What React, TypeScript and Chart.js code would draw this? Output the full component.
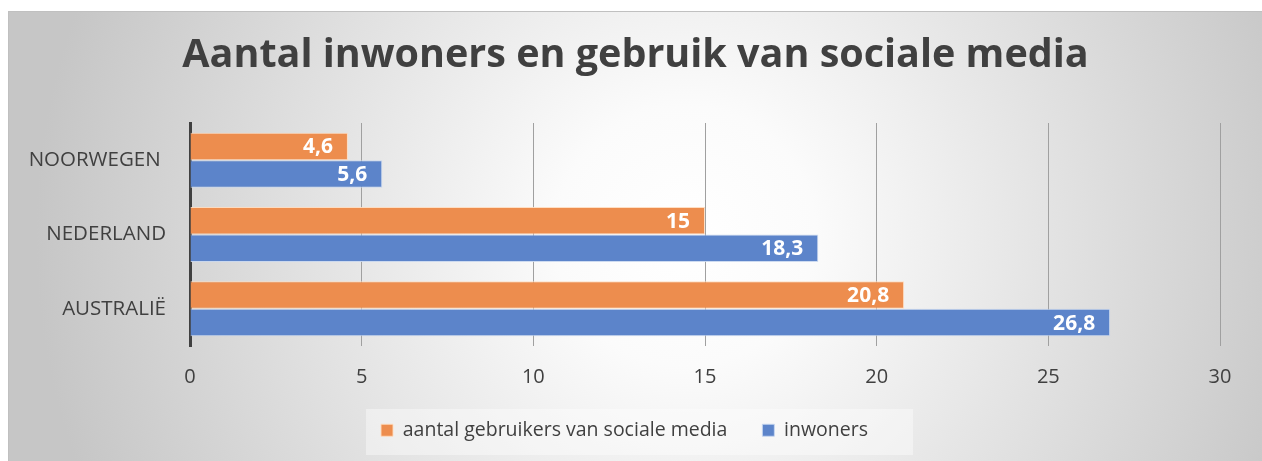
import React, { useEffect, useRef } from "react";
import { Chart, registerables } from "chart.js";

Chart.register(...registerables);

const categories = ["NOORWEGEN ", "NEDERLAND", "AUSTRALIË"];
const socialMedia = [4.6, 15, 20.8];
const inhabitants = [5.6, 18.3, 26.8];
const seriesNames = ["aantal gebruikers van sociale media", "inwoners"];
const titleText = "Aantal inwoners en gebruik van sociale media";

const ORANGE = "rgb(237,141,78)";
const BLUE = "rgb(92,132,202)";
const TEXT = "#404040";
const FONT = "'Open Sans', Lato, sans-serif";

const fmt = (v: number) => String(v).replace(".", ",");

const dataLabels = {
  id: "dataLabels",
  afterDatasetsDraw(chart: any) {
    const ctx = chart.ctx;
    ctx.save();
    ctx.font = `bold 21px ${FONT}`;
    ctx.fillStyle = "#ffffff";
    ctx.textAlign = "right";
    ctx.textBaseline = "middle";
    chart.data.datasets.forEach((ds: any, i: number) => {
      const meta = chart.getDatasetMeta(i);
      meta.data.forEach((bar: any, j: number) => {
        ctx.fillText(fmt(ds.data[j]), bar.x - 15, bar.y + 1);
      });
    });
    ctx.restore();
  },
};

const legendBg = {
  id: "legendBg",
  beforeDraw(chart: any) {
    const l = chart.legend;
    if (!l) return;
    const ctx = chart.ctx;
    ctx.save();
    ctx.fillStyle = "rgba(255,255,255,0.4)";
    const w = 547;
    const cx = chart.width / 2 + 4;
    ctx.fillRect(cx - w / 2, l.bottom - 41, w, 46);
    ctx.restore();
  },
};

const recenter = {
  id: "recenter",
  afterLayout(chart: any) {
    const t = chart.titleBlock;
    if (t) {
      t.left = 0;
      t.right = chart.width;
      t.width = chart.width;
    }
    const l = chart.legend;
    if (l) {
      l.left += 10;
      l.right += 10;
    }
  },
};

export default function App() {
  const ref = useRef<HTMLCanvasElement>(null);
  useEffect(() => {
    if (!ref.current) return;
    const chart = new Chart(ref.current, {
      type: "bar",
      data: {
        labels: categories,
        datasets: [
          {
            label: seriesNames[0],
            data: socialMedia,
            backgroundColor: ORANGE,
            borderColor: "rgba(255,220,190,0.9)",
            borderWidth: 1,
            barPercentage: 1,
            categoryPercentage: 0.74,
          },
          {
            label: seriesNames[1],
            data: inhabitants,
            backgroundColor: BLUE,
            borderColor: "rgba(200,215,240,0.9)",
            borderWidth: 1,
            barPercentage: 1,
            categoryPercentage: 0.74,
          },
        ],
      },
      options: {
        indexAxis: "y",
        animation: false,
        responsive: false,
        maintainAspectRatio: false,
        layout: { padding: { left: 0, right: 42, top: 0, bottom: 11 } },
        scales: {
          x: {
            min: 0,
            max: 30,
            ticks: {
              stepSize: 5,
              color: TEXT,
              font: { family: FONT, size: 20 },
              padding: 19,
            },
            grid: { color: "#a0a0a0", lineWidth: 1, drawTicks: false },
            border: { display: false },
            afterFit(scale: any) {
              scale.height = 39.5;
            },
          },
          y: {
            ticks: {
              color: TEXT,
              font: { family: FONT, size: 20.5 },
              padding: 24,
            },
            grid: { display: false, drawTicks: false },
            border: { display: true, color: "#404040", width: 3 },
            afterFit(scale: any) {
              scale.width = 181;
            },
          },
        },
        plugins: {
          title: {
            display: true,
            text: titleText,
            color: TEXT,
            font: { family: FONT, size: 39.5, weight: "bold" },
            padding: { top: 20, bottom: 43.6 },
          },
          legend: {
            position: "bottom",
            labels: {
              color: TEXT,
              font: { family: FONT, size: 19.5 },
              boxWidth: 12,
              boxHeight: 12,
              padding: 35,
            },
          },
          tooltip: { enabled: false },
        },
      },
      plugins: [dataLabels, legendBg, recenter],
    });
    return () => chart.destroy();
  }, []);

  return (
    <div
      style={{
        position: "fixed",
        left: 8,
        top: 11,
        width: 1254,
        height: 450,
        borderTop: "1px solid #c0c0c0",
        borderLeft: "1px solid #c0c0c0",
        boxSizing: "border-box",
        background:
          "radial-gradient(circle at 54% 50%, #ffffff 0px, #fbfbfb 130px, #c6c6c6 650px)",
      }}
    >
      <canvas ref={ref} width={1253} height={449} style={{ display: "block" }} />
    </div>
  );
}
